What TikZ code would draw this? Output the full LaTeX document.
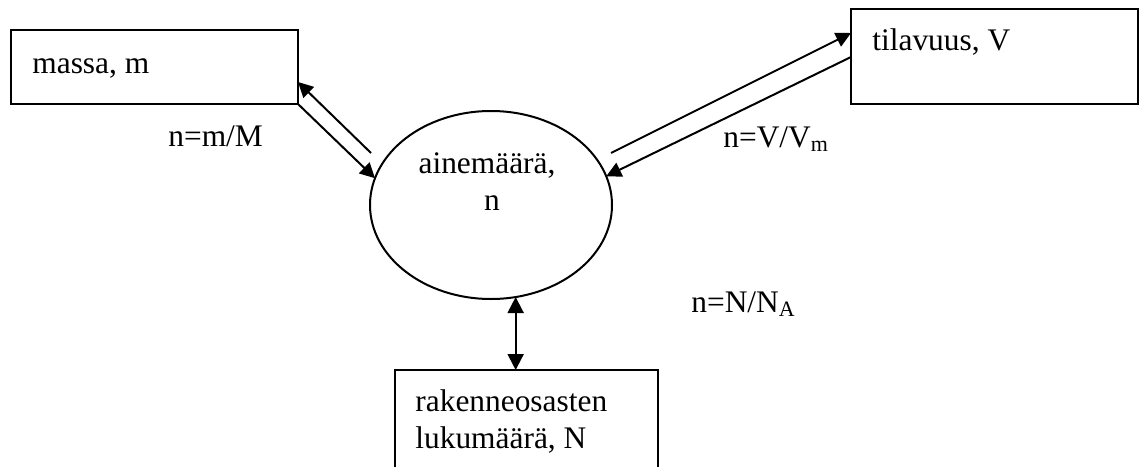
\documentclass[tikz,border=0pt]{standalone}
\usepackage{fontspec}
\setmainfont{Liberation Serif}
\usetikzlibrary{arrows.meta,shapes.geometric}
\begin{document}
\begin{tikzpicture}[x=0.5pt,y=-0.5pt,
  box/.style={draw, line width=1pt, rectangle, anchor=north west, inner sep=0pt, outer sep=0pt},
  lbl/.style={anchor=base west, inner sep=0pt, font=\fontsize{15.7}{18.5}\selectfont},
  clbl/.style={lbl, anchor=base},
  tip/.style={Triangle[length=7.5pt,width=7.5pt]},
  link/.style={line width=1pt, -{Triangle[length=7.5pt,width=7.5pt]}},
  both/.style={line width=1pt, {Triangle[length=8pt,width=8pt]}-{Triangle[length=8pt,width=8pt]}}]
\useasboundingbox (0,0) rectangle (1140,466);

% quantity boxes
\node[box, minimum width=143.5pt, minimum height=37pt] (massa) at (11,30) {};
\node[box, minimum width=143.5pt, minimum height=47.5pt] (tila) at (851,9) {};
\node[box, minimum width=131.5pt, minimum height=65pt] (luku) at (395,370) {};
\node[draw, ellipse, line width=1pt, minimum width=121pt, minimum height=94pt,
      inner sep=0pt, outer sep=0pt] (aine) at (491,205) {};

% texts
\node[lbl] (tmassa) at (32,73) {massa, m};
\node[lbl] (ttila) at (872,50) {tilavuus, V};
\node[clbl] (taine1) at (487,173) {ainemäärä,};
\node[clbl] (taine2) at (492,210) {n};
\node[lbl] (tluku1) at (415,411) {rakenneosasten};
\node[lbl] (tluku2) at (415,448) {lukumäärä, N};
\node[lbl] (fm) at (168,146) {n=m/M};
\node[lbl] (fv) at (723,147) {n=V/V\textsubscript{m}};
\node[lbl] (fn) at (691,312) {n=N/N\textsubscript{A}};

% connector ends
\coordinate (mOut) at (371,153);
\coordinate (mIn) at (massa.north east |- 0,82);
\coordinate (vOut) at (611,153);
\coordinate (vIn) at (tila.north west |- 0,33);
\coordinate (vBack) at (tila.north west |- 0,57);

% connectors
\draw[link] (mOut) -- (mIn);
\draw[link] (massa.south east) -- (aine.167);
\draw[link] (vOut) -- (vIn);
\draw[link] (vBack) -- (aine.14);
\draw[both] (aine.-75) -- (aine.-75 |- luku.north);
\end{tikzpicture}
\end{document}
